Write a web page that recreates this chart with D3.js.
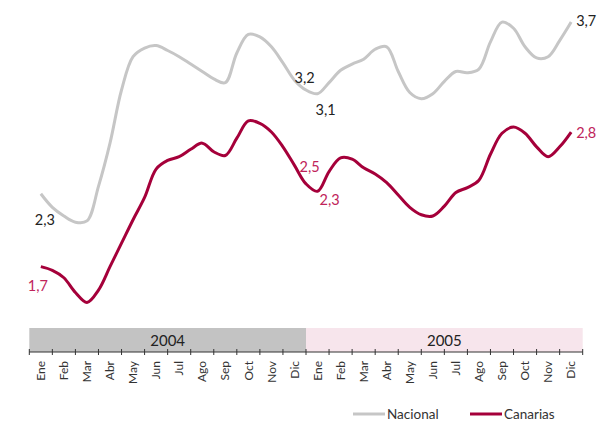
<!DOCTYPE html>
<html>
<head>
<meta charset="utf-8">
<script src="https://cdn.jsdelivr.net/npm/d3@7"></script>
<style>
  body { margin: 0; background: #fff; }
  text { font-family: Lato, "Open Sans", sans-serif; }
</style>
</head>
<body>
<script>
// meses (etiquetas del eje) y años
var months = ["Ene","Feb","Mar","Abr","May","Jun","Jul","Ago","Sep","Oct","Nov","Dic"];
var years = ["2004", "2005"];

// valores leidos cada medio mes, de mediados de Ene 2004 a mediados de Dic 2005
var nacional = [2.31,2.20,2.13,2.08,2.09,2.37,2.72,3.15,3.42,3.49,3.51,3.47,3.42,3.36,3.30,3.24,3.21,3.45,3.60,3.58,3.50,3.37,3.23,3.15,
                3.12,3.21,3.31,3.36,3.40,3.48,3.50,3.30,3.13,3.08,3.12,3.22,3.30,3.29,3.32,3.54,3.70,3.65,3.50,3.41,3.42,3.55,3.70];
var canarias = [1.72,1.69,1.63,1.51,1.43,1.53,1.72,1.91,2.10,2.28,2.51,2.58,2.61,2.67,2.72,2.65,2.62,2.76,2.90,2.88,2.81,2.69,2.54,2.39,
                2.33,2.49,2.60,2.59,2.52,2.47,2.40,2.30,2.20,2.14,2.13,2.21,2.32,2.36,2.42,2.63,2.80,2.85,2.80,2.69,2.61,2.69,2.81];

// etiquetas de valor: indice del punto y texto
var nacionalLabels = [{i:0, text:"2,3"}, {i:22, text:"3,2"}, {i:24, text:"3,1"}, {i:46, text:"3,7"}];
var canariasLabels = [{i:0, text:"1,7"}, {i:22, text:"2,5"}, {i:24, text:"2,3"}, {i:46, text:"2,8"}];

var seriesNames = ["Nacional", "Canarias"];

var width = 598, height = 429;
var grey = "#c6c6c6", red = "#a5003a", redText = "#c0245a";

var svg = d3.select("body").append("svg")
    .attr("width", width)
    .attr("height", height);

// escala de tiempo en meses (0 = inicio Ene 2004, 24 = fin Dic 2005)
var xScale = d3.scaleLinear().domain([0, 24]).range([29.3, 582.7]);
var yScale = d3.scaleLinear().domain([1.4, 3.8]).range([306.15, 9.75]);

var xOf = function(d, i) { return xScale(0.5 + i * 0.5); };

var line = d3.line()
    .x(xOf)
    .y(function(d) { return yScale(d); })
    .curve(d3.curveCatmullRom.alpha(0.5));

svg.append("path")
    .datum(nacional)
    .attr("fill", "none")
    .attr("stroke", grey)
    .attr("stroke-width", 3)
    .attr("d", line);

svg.append("path")
    .datum(canarias)
    .attr("fill", "none")
    .attr("stroke", red)
    .attr("stroke-width", 3)
    .attr("d", line);

// etiquetas de valores
var nacOff = [[-6, 31], [0, 3], [-2, 21], [5, 4]];
var canOff = [[-13, 24], [5, 7], [2, 14], [5, 6]];

svg.selectAll(".nacLabel").data(nacionalLabels).enter()
    .append("text")
    .attr("class", "nacLabel")
    .attr("x", function(d, k) { return xOf(null, d.i) + nacOff[k][0]; })
    .attr("y", function(d, k) { return yScale(nacional[d.i]) + nacOff[k][1]; })
    .attr("font-size", 14.5)
    .attr("fill", "#222")
    .text(function(d) { return d.text; });

svg.selectAll(".canLabel").data(canariasLabels).enter()
    .append("text")
    .attr("class", "canLabel")
    .attr("x", function(d, k) { return xOf(null, d.i) + canOff[k][0]; })
    .attr("y", function(d, k) { return yScale(canarias[d.i]) + canOff[k][1]; })
    .attr("font-size", 14.5)
    .attr("fill", redText)
    .text(function(d) { return d.text; });

// bandas de año
var bandTop = 328, axisY = 352;
var yearFill = ["#c3c3c3", "#f7e5ec"];
svg.selectAll(".yearBand").data(years).enter()
    .append("rect")
    .attr("x", function(d, i) { return xScale(i * 12); })
    .attr("y", bandTop)
    .attr("width", xScale(12) - xScale(0))
    .attr("height", axisY - bandTop)
    .attr("fill", function(d, i) { return yearFill[i]; });

svg.selectAll(".yearText").data(years).enter()
    .append("text")
    .attr("x", function(d, i) { return xScale(i * 12 + 6); })
    .attr("y", 346)
    .attr("text-anchor", "middle")
    .attr("font-size", 15)
    .attr("fill", "#222")
    .text(function(d) { return d; });

// eje
svg.append("line")
    .attr("x1", xScale(0)).attr("x2", xScale(24))
    .attr("y1", axisY).attr("y2", axisY)
    .attr("stroke", "#333").attr("stroke-width", 1);

svg.selectAll(".tick").data(d3.range(25)).enter()
    .append("line")
    .attr("x1", function(d) { return xScale(d); })
    .attr("x2", function(d) { return xScale(d); })
    .attr("y1", axisY - 3).attr("y2", axisY + 3)
    .attr("stroke", "#333").attr("stroke-width", 1);

var allMonths = months.concat(months);
svg.selectAll(".month").data(allMonths).enter()
    .append("text")
    .attr("transform", function(d, i) {
        return "translate(" + xScale(i + 0.5) + ",361) rotate(-90)";
    })
    .attr("text-anchor", "end")
    .attr("dy", "0.35em")
    .attr("font-size", 12)
    .attr("fill", "#333")
    .text(function(d) { return d; });

// leyenda
var legend = [{name: seriesNames[0], color: grey, x: 353}, {name: seriesNames[1], color: red, x: 470}];
var lg = svg.selectAll(".legend").data(legend).enter()
    .append("g")
    .attr("transform", function(d) { return "translate(" + d.x + ",414)"; });
lg.append("line")
    .attr("x1", 0).attr("x2", 32)
    .attr("stroke", function(d) { return d.color; })
    .attr("stroke-width", 3);
lg.append("text")
    .attr("x", 34)
    .attr("dy", "0.35em")
    .attr("font-size", 13.5)
    .attr("fill", "#333")
    .text(function(d) { return d.name; });
</script>
</body>
</html>
